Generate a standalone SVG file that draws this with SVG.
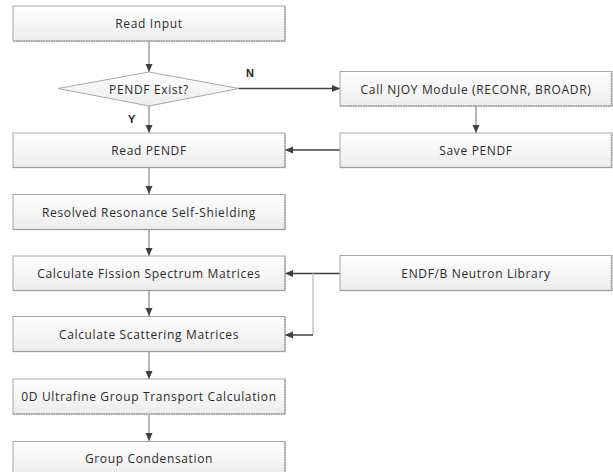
<svg xmlns="http://www.w3.org/2000/svg" width="613" height="472" viewBox="0 0 613 472">
  <defs>
    <linearGradient id="boxFill" x1="0" y1="0" x2="0" y2="1">
      <stop offset="0" stop-color="#ffffff"/>
      <stop offset="1" stop-color="#ececec"/>
    </linearGradient>
    <marker id="arrow" viewBox="0 0 8 8" refX="8" refY="4" markerWidth="8" markerHeight="8" markerUnits="userSpaceOnUse" orient="auto">
      <path d="M0,0.5 L8,4 L0,7.5 Z" fill="#404040"/>
    </marker>
  </defs>
  <style>
    .box { fill: url(#boxFill); stroke: #a8a8a8; stroke-width: 1; }
    .shadow { fill: none; stroke: #9a9a9a; stroke-width: 1.5; stroke-dasharray: 1.5 1; }
    .label { font-family: "Open Sans", "Noto Sans", sans-serif; font-size: 12px; letter-spacing: 0.65px; fill: #2b2b2b; text-anchor: middle; dominant-baseline: central; }
    .tag { font-family: "Liberation Sans", Arial, sans-serif; font-size: 11px; font-weight: bold; fill: #262626; }
    .vline { stroke: #6e6e6e; stroke-width: 1; fill: none; }
    .hline { stroke: #404040; stroke-width: 1.5; fill: none; }
    .branch { stroke: #c4c4c4; stroke-width: 1.5; fill: none; }
  </style>
  <rect width="613" height="472" fill="#ffffff"/>

  <!-- connectors -->
  <g id="connectors">
    <line class="vline" x1="149" y1="41" x2="149" y2="72" marker-end="url(#arrow)"/>
    <line class="vline" x1="149" y1="106" x2="149" y2="133" marker-end="url(#arrow)"/>
    <line class="hline" x1="239" y1="88.5" x2="340" y2="88.5" marker-end="url(#arrow)"/>
    <line class="vline" x1="476" y1="106" x2="476" y2="133" marker-end="url(#arrow)"/>
    <line class="hline" x1="340" y1="150" x2="285" y2="150" marker-end="url(#arrow)"/>
    <line class="vline" x1="149" y1="168" x2="149" y2="194" marker-end="url(#arrow)"/>
    <line class="vline" x1="149" y1="230" x2="149" y2="256" marker-end="url(#arrow)"/>
    <line class="hline" x1="340" y1="273.5" x2="285" y2="273.5" marker-end="url(#arrow)"/>
    <polyline class="branch" points="313,273.5 313,335"/>
    <line class="hline" x1="313" y1="335" x2="285" y2="335" marker-end="url(#arrow)"/>
    <line class="vline" x1="149" y1="291" x2="149" y2="316" marker-end="url(#arrow)"/>
    <line class="vline" x1="149" y1="352" x2="149" y2="379" marker-end="url(#arrow)"/>
    <line class="vline" x1="149" y1="415" x2="149" y2="441" marker-end="url(#arrow)"/>
    <text class="tag" x="246" y="77">N</text>
    <text class="tag" x="128" y="123">Y</text>
  </g>

  <g id="read-input">
    <rect class="box" x="13" y="6" width="272" height="35"/>
    <polyline class="shadow" points="13.5,41 285,41 285,6.5"/>
    <text class="label" x="149" y="23.5">Read Input</text>
  </g>

  <g id="pendf-exist">
    <polygon class="box" points="149,72 239,88.5 149,106 58,88.5"/>
    <text class="label" x="149" y="89">PENDF Exist?</text>
  </g>

  <g id="call-njoy">
    <rect class="box" x="340" y="71.5" width="272" height="34.5"/>
    <polyline class="shadow" points="340.5,106 611.5,106 611.5,72"/>
    <text class="label" x="476" y="89">Call NJOY Module (RECONR, BROADR)</text>
  </g>

  <g id="read-pendf">
    <rect class="box" x="13" y="133" width="272" height="34.5"/>
    <polyline class="shadow" points="13.5,167.5 285,167.5 285,133.5"/>
    <text class="label" x="149" y="150.5">Read PENDF</text>
  </g>

  <g id="save-pendf">
    <rect class="box" x="340" y="133" width="272" height="34.5"/>
    <polyline class="shadow" points="340.5,167.5 611.5,167.5 611.5,133.5"/>
    <text class="label" x="476" y="150.5">Save PENDF</text>
  </g>

  <g id="resolved-resonance">
    <rect class="box" x="13" y="194.5" width="272" height="35"/>
    <polyline class="shadow" points="13.5,229.5 285,229.5 285,195"/>
    <text class="label" x="149" y="212">Resolved Resonance Self-Shielding</text>
  </g>

  <g id="fission-spectrum">
    <rect class="box" x="13" y="256" width="272" height="34.5"/>
    <polyline class="shadow" points="13.5,290.5 285,290.5 285,256.5"/>
    <text class="label" x="149" y="273.5">Calculate Fission Spectrum Matrices</text>
  </g>

  <g id="endf-library">
    <rect class="box" x="340" y="255.5" width="272" height="35"/>
    <polyline class="shadow" points="340.5,290.5 611.5,290.5 611.5,256"/>
    <text class="label" x="476" y="273">ENDF/B Neutron Library</text>
  </g>

  <g id="scattering">
    <rect class="box" x="13" y="316.5" width="272" height="35"/>
    <polyline class="shadow" points="13.5,351.5 285,351.5 285,317"/>
    <text class="label" x="149" y="334">Calculate Scattering Matrices</text>
  </g>

  <g id="ultrafine-transport">
    <rect class="box" x="13" y="379" width="272" height="35"/>
    <polyline class="shadow" points="13.5,414 285,414 285,379.5"/>
    <text class="label" x="149" y="396.5">0D Ultrafine Group Transport Calculation</text>
  </g>

  <g id="group-condensation">
    <rect class="box" x="13" y="441.5" width="272" height="34"/>
    <polyline class="shadow" points="285,442 285,472"/>
    <text class="label" x="149" y="458">Group Condensation</text>
  </g>
</svg>
